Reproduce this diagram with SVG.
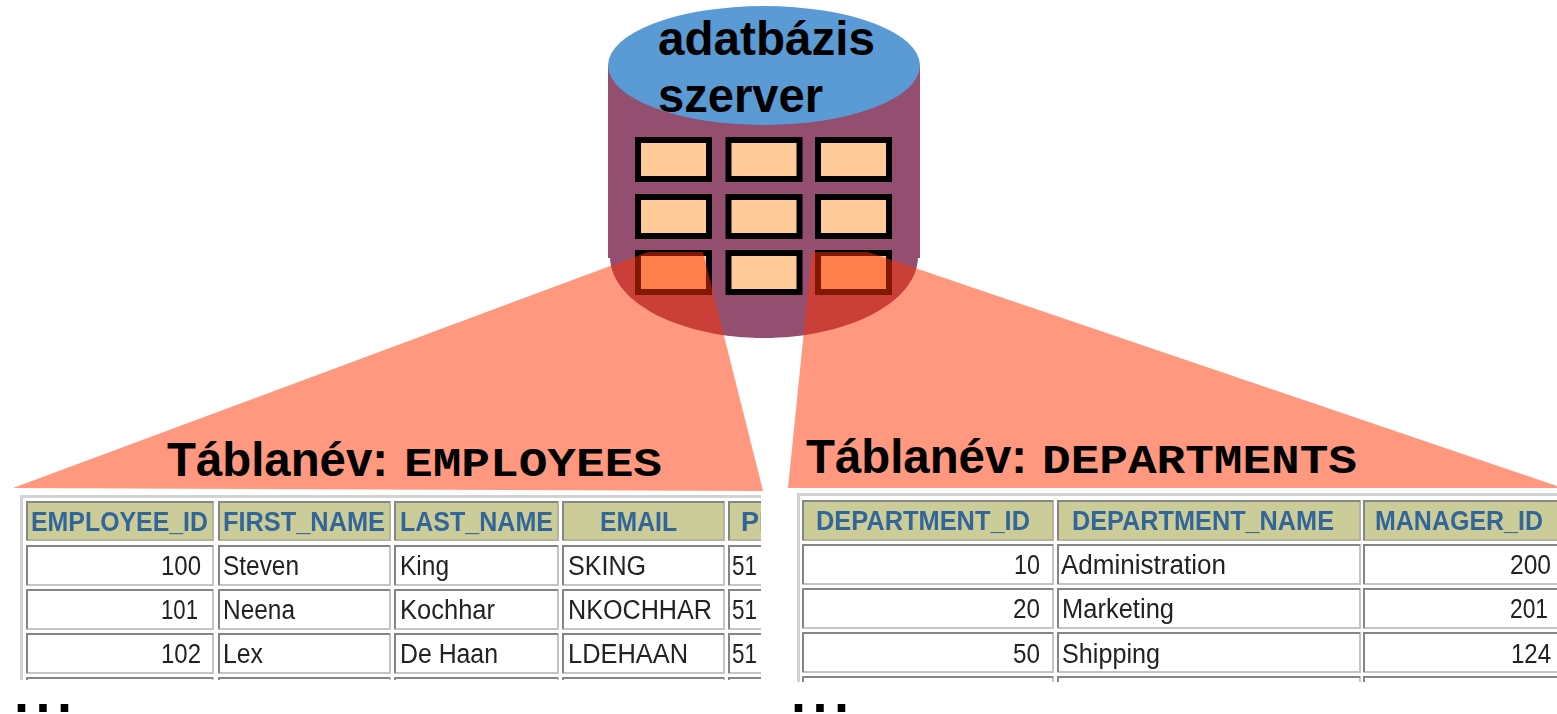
<svg xmlns="http://www.w3.org/2000/svg" width="1557" height="714" viewBox="0 0 1557 714">
<style>
.big{font:bold 48px "Liberation Sans",Arial,sans-serif;fill:#000}
.mono{font:bold 40px "Liberation Mono","Courier New",monospace;fill:#000}
.dots{font:bold 54px "Liberation Sans",Arial,sans-serif;fill:#000;letter-spacing:6.5px}
.slot{fill:#FFCC99;stroke:#000;stroke-width:6}
.beam{fill:#FF3200;fill-opacity:.5}
.cell{fill:#fff;stroke:#c4c4c4;stroke-width:2}
.head{fill:#CCCC99;stroke:#b4b4a0;stroke-width:2}
.edge{fill:none;stroke:#858585;stroke-width:2}
.outer{fill:none;stroke:#d2d2d2;stroke-width:3}
.th{font:bold 27px "Liberation Sans",Arial,sans-serif;fill:#336699}
.td{font:27px "Liberation Sans",Arial,sans-serif;fill:#222}
</style>
<defs>
<clipPath id="clipL"><rect x="0" y="490" width="761" height="190"/></clipPath>
<clipPath id="clipR"><rect x="790" y="490" width="767" height="192"/></clipPath>
<filter id="soft" x="-2%" y="-2%" width="104%" height="104%"><feGaussianBlur stdDeviation="0.45"/></filter>
</defs>
<g id="server">
<path d="M608 66V258H610C612 305 685 338 764 338C843 338 916 305 918 258H920V66Z" fill="#944E70"/>
<ellipse cx="764" cy="65.500" rx="156" ry="59.500" fill="#5B9BD5"/>
<g id="slots">
<rect class="slot" x="638" y="140" width="71" height="39"/>
<rect class="slot" x="728.500" y="140" width="71" height="39"/>
<rect class="slot" x="818" y="140" width="71" height="39"/>
<rect class="slot" x="638" y="197" width="71" height="39"/>
<rect class="slot" x="728.500" y="197" width="71" height="39"/>
<rect class="slot" x="818" y="197" width="71" height="39"/>
<rect class="slot" x="638" y="253" width="71" height="39"/>
<rect class="slot" x="728.500" y="253" width="71" height="39"/>
<rect class="slot" x="818" y="253" width="71" height="39"/>
</g>
<text class="big" x="658" y="55" textLength="217" lengthAdjust="spacingAndGlyphs">adatbázis</text>
<text class="big" x="658" y="112" textLength="165" lengthAdjust="spacingAndGlyphs">szerver</text>
</g>
<g id="connectors">
<polygon class="beam" points="648,252 703,252 763,491 13,488"/>
<polygon class="beam" points="812,252 868,252 1557,486 1557,488 788,488"/>
</g>
<g id="employees">
<text class="big" x="167" y="476" textLength="221" lengthAdjust="spacingAndGlyphs">Táblanév:</text>
<text class="mono" x="404" y="476" textLength="258" lengthAdjust="spacingAndGlyphs">EMPLOYEES</text>
<g clip-path="url(#clipL)"><g filter="url(#soft)">
<path class="outer" d="M21.500 690V496.500H770"/>
<rect class="head" x="27" y="502" width="186" height="38"/><rect class="head" x="219" y="502" width="171" height="38"/><rect class="head" x="395" y="502" width="163" height="38"/><rect class="head" x="563" y="502" width="161" height="38"/><rect class="head" x="729" y="502" width="60" height="38"/>
<rect class="cell" x="27" y="546" width="186" height="39"/><rect class="cell" x="219" y="546" width="171" height="39"/><rect class="cell" x="395" y="546" width="163" height="39"/><rect class="cell" x="563" y="546" width="161" height="39"/><rect class="cell" x="729" y="546" width="60" height="39"/>
<rect class="cell" x="27" y="590" width="186" height="39"/><rect class="cell" x="219" y="590" width="171" height="39"/><rect class="cell" x="395" y="590" width="163" height="39"/><rect class="cell" x="563" y="590" width="161" height="39"/><rect class="cell" x="729" y="590" width="60" height="39"/>
<rect class="cell" x="27" y="634" width="186" height="39"/><rect class="cell" x="219" y="634" width="171" height="39"/><rect class="cell" x="395" y="634" width="163" height="39"/><rect class="cell" x="563" y="634" width="161" height="39"/><rect class="cell" x="729" y="634" width="60" height="39"/>
<rect class="cell" x="27" y="678" width="186" height="39"/><rect class="cell" x="219" y="678" width="171" height="39"/><rect class="cell" x="395" y="678" width="163" height="39"/><rect class="cell" x="563" y="678" width="161" height="39"/><rect class="cell" x="729" y="678" width="60" height="39"/>
<path class="edge" d="M27 540V502H213M219 540V502H390M395 540V502H558M563 540V502H724M729 540V502H789M27 585V546H213M219 585V546H390M395 585V546H558M563 585V546H724M729 585V546H789M27 629V590H213M219 629V590H390M395 629V590H558M563 629V590H724M729 629V590H789M27 673V634H213M219 673V634H390M395 673V634H558M563 673V634H724M729 673V634H789M27 717V678H213M219 717V678H390M395 717V678H558M563 717V678H724M729 717V678H789"/>
<text class="th" x="31" y="531" textLength="177" lengthAdjust="spacingAndGlyphs">EMPLOYEE_ID</text>
<text class="th" x="223" y="531" textLength="162" lengthAdjust="spacingAndGlyphs">FIRST_NAME</text>
<text class="th" x="400" y="531" textLength="153" lengthAdjust="spacingAndGlyphs">LAST_NAME</text>
<text class="th" x="600" y="531" textLength="77" lengthAdjust="spacingAndGlyphs">EMAIL</text>
<text class="th" x="741" y="531">PH</text>
<text class="td" x="161" y="575" textLength="40" lengthAdjust="spacingAndGlyphs">100</text>
<text class="td" x="161" y="619" textLength="37" lengthAdjust="spacingAndGlyphs">101</text>
<text class="td" x="161" y="663" textLength="40" lengthAdjust="spacingAndGlyphs">102</text>
<text class="td" x="223" y="575" textLength="76" lengthAdjust="spacingAndGlyphs">Steven</text>
<text class="td" x="223" y="619" textLength="72" lengthAdjust="spacingAndGlyphs">Neena</text>
<text class="td" x="223" y="663" textLength="40" lengthAdjust="spacingAndGlyphs">Lex</text>
<text class="td" x="400" y="575" textLength="49" lengthAdjust="spacingAndGlyphs">King</text>
<text class="td" x="400" y="619" textLength="95" lengthAdjust="spacingAndGlyphs">Kochhar</text>
<text class="td" x="400" y="663" textLength="98" lengthAdjust="spacingAndGlyphs">De Haan</text>
<text class="td" x="568" y="575" textLength="78" lengthAdjust="spacingAndGlyphs">SKING</text>
<text class="td" x="568" y="619" textLength="144" lengthAdjust="spacingAndGlyphs">NKOCHHAR</text>
<text class="td" x="568" y="663" textLength="120" lengthAdjust="spacingAndGlyphs">LDEHAAN</text>
<text class="td" x="732" y="575" textLength="25" lengthAdjust="spacingAndGlyphs">51</text>
<text class="td" x="732" y="619" textLength="25" lengthAdjust="spacingAndGlyphs">51</text>
<text class="td" x="732" y="663" textLength="25" lengthAdjust="spacingAndGlyphs">51</text>
</g></g>
<text class="dots" x="14" y="712">...</text>
</g>
<g id="departments">
<text class="big" x="806" y="473" textLength="221" lengthAdjust="spacingAndGlyphs">Táblanév:</text>
<text class="mono" x="1042" y="473" textLength="315" lengthAdjust="spacingAndGlyphs">DEPARTMENTS</text>
<g clip-path="url(#clipR)"><g filter="url(#soft)">
<path class="outer" d="M798.500 690V494.500H1570"/>
<rect class="head" x="803" y="501" width="250" height="39"/><rect class="head" x="1058" y="501" width="302" height="39"/><rect class="head" x="1364" y="501" width="240" height="39"/>
<rect class="cell" x="803" y="545" width="250" height="39"/><rect class="cell" x="1058" y="545" width="302" height="39"/><rect class="cell" x="1364" y="545" width="240" height="39"/>
<rect class="cell" x="803" y="589" width="250" height="39"/><rect class="cell" x="1058" y="589" width="302" height="39"/><rect class="cell" x="1364" y="589" width="240" height="39"/>
<rect class="cell" x="803" y="633" width="250" height="39"/><rect class="cell" x="1058" y="633" width="302" height="39"/><rect class="cell" x="1364" y="633" width="240" height="39"/>
<rect class="cell" x="803" y="677" width="250" height="39"/><rect class="cell" x="1058" y="677" width="302" height="39"/><rect class="cell" x="1364" y="677" width="240" height="39"/>
<path class="edge" d="M803 540V501H1053M1058 540V501H1360M1364 540V501H1604M803 584V545H1053M1058 584V545H1360M1364 584V545H1604M803 628V589H1053M1058 628V589H1360M1364 628V589H1604M803 672V633H1053M1058 672V633H1360M1364 672V633H1604M803 716V677H1053M1058 716V677H1360M1364 716V677H1604"/>
<text class="th" x="816" y="530" textLength="214" lengthAdjust="spacingAndGlyphs">DEPARTMENT_ID</text>
<text class="th" x="1072" y="530" textLength="262" lengthAdjust="spacingAndGlyphs">DEPARTMENT_NAME</text>
<text class="th" x="1375" y="530" textLength="168" lengthAdjust="spacingAndGlyphs">MANAGER_ID</text>
<text class="td" x="1014" y="574" textLength="26" lengthAdjust="spacingAndGlyphs">10</text>
<text class="td" x="1013" y="618" textLength="27" lengthAdjust="spacingAndGlyphs">20</text>
<text class="td" x="1013" y="663" textLength="27" lengthAdjust="spacingAndGlyphs">50</text>
<text class="td" x="1061" y="574" textLength="165" lengthAdjust="spacingAndGlyphs">Administration</text>
<text class="td" x="1062" y="618" textLength="112" lengthAdjust="spacingAndGlyphs">Marketing</text>
<text class="td" x="1062" y="663" textLength="98" lengthAdjust="spacingAndGlyphs">Shipping</text>
<text class="td" x="1510" y="574" textLength="41" lengthAdjust="spacingAndGlyphs">200</text>
<text class="td" x="1510" y="618" textLength="38" lengthAdjust="spacingAndGlyphs">201</text>
<text class="td" x="1511" y="663" textLength="40" lengthAdjust="spacingAndGlyphs">124</text>
</g></g>
<text class="dots" x="791" y="712">...</text>
</g>
</svg>
